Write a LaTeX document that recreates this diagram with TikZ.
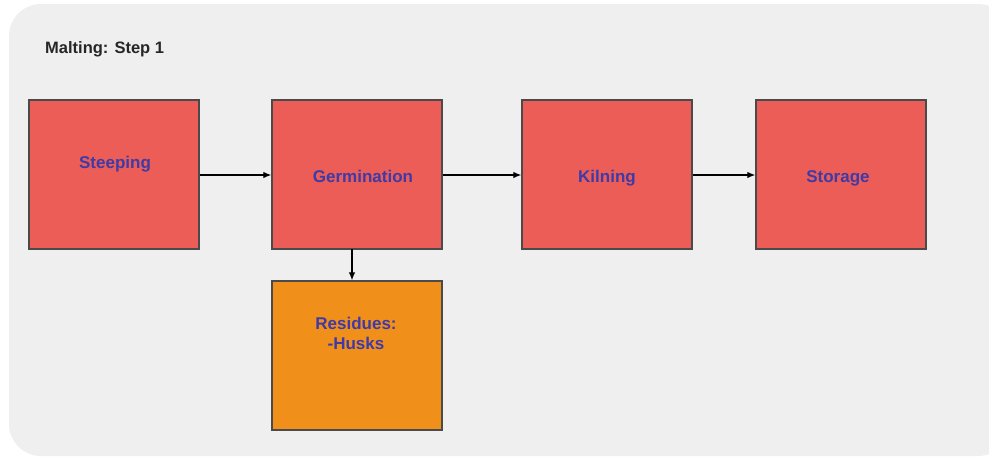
\documentclass[tikz,border=0pt]{standalone}
\usepackage{fontspec}
\setmainfont{Liberation Sans}
\usetikzlibrary{arrows.meta}
\definecolor{panel}{HTML}{EFEFEF}
\definecolor{stepred}{HTML}{EC5D57}
\definecolor{residue}{HTML}{F08F1A}
\definecolor{labelblue}{HTML}{3F3AA6}
\definecolor{edge}{HTML}{4A4A4A}
\tikzset{
  px/.style={x=1pt,y=-1pt},
  stagebox/.style={draw=edge, line width=1.4pt, fill=stepred, minimum width=170pt, minimum height=149pt,
    inner sep=0pt},
  residuebox/.style={stagebox, fill=residue},
  stagelabel/.style={text=labelblue, font=\bfseries\fontsize{17}{20}\selectfont, align=center,
    inner sep=0pt, text height=12.5pt, text depth=3.5pt},
  flow/.style={-{Latex[length=8pt,width=6.5pt]}, line width=1.1pt, black}
}
\begin{document}
\begin{tikzpicture}[px]
\useasboundingbox (0,0) rectangle (989,459);
% background panel
\fill[panel, rounded corners=32pt] (9,4) rectangle (1010,456);
\node[anchor=west, inner sep=0pt, font=\bfseries\fontsize{16.5}{19}\selectfont, text=black!85] (title) at (45,49) {Malting: Step 1};
% process stages
\node[stagebox] (steep) at (114,174.5) {};
\node[stagelabel] (steeplbl) at (115,164) {Steeping};
\node[stagebox] (germ) at (357,174.5) {};
\node[stagelabel] (germlbl) at (363,178) {Germination};
\node[stagebox] (kiln) at (607,174.5) {};
\node[stagelabel] (kilnlbl) at (607,178) {Kilning};
\node[stagebox] (store) at (841,174.5) {};
\node[stagelabel] (storelbl) at (838,178) {Storage};
\node[residuebox] (resid) at (357,355.5) {};
\node[stagelabel, text height=, text depth=] (residlbl) at (356,333) {Residues:\\-Husks};
% connectors
\draw[flow] (steep.east |- 0,175) -- (germ.west |- 0,175);
\draw[flow] (germ.east |- 0,175) -- (kiln.west |- 0,175);
\draw[flow] (kiln.east |- 0,175) -- (store.west |- 0,175);
\coordinate (gdown) at (352,249);
\draw[flow] (gdown) -- (gdown |- resid.north);
\end{tikzpicture}
\end{document}
